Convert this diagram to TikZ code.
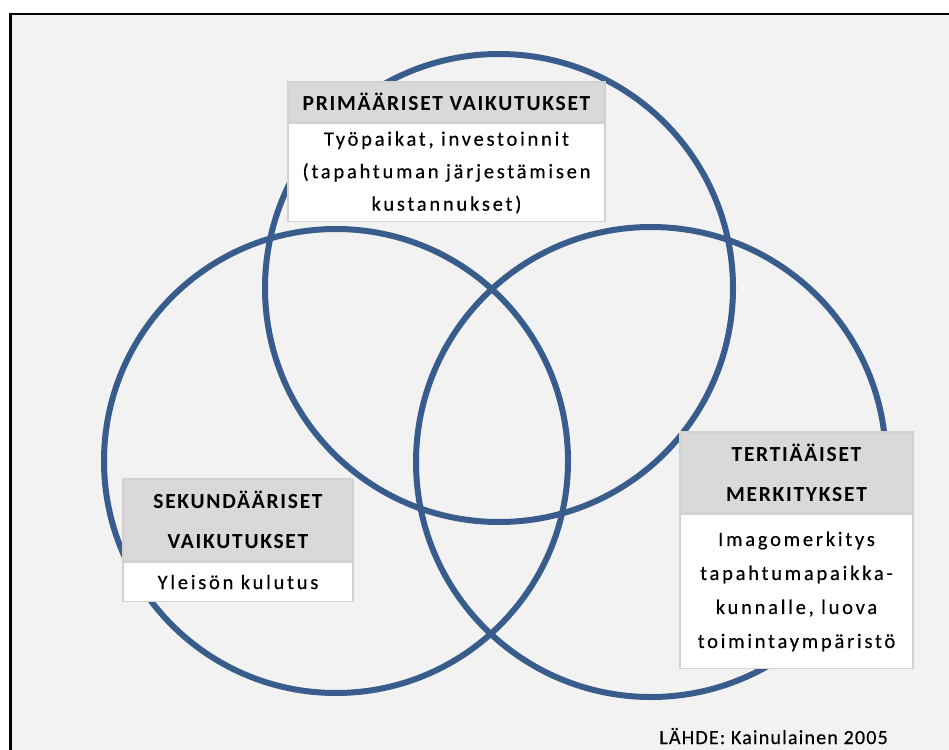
\documentclass[tikz,border=0pt]{standalone}
\usepackage{fontspec}
\setmainfont{Carlito}
\newfontfamily\plainface[FakeBold=0.4]{Carlito}
\definecolor{ringblue}{RGB}{56,93,140}
\definecolor{panel}{RGB}{242,242,242}
\definecolor{headgray}{RGB}{217,217,217}
\definecolor{edgegray}{RGB}{210,210,210}
\begin{document}
\begin{tikzpicture}[x=1pt,y=-1pt,
  ring/.style={draw=ringblue,line width=6pt},
  headbox/.style={fill=headgray,draw=edgegray,line width=1.5pt,inner sep=0pt,align=center,
    font=\bfseries\fontsize{21.5}{40}\selectfont\addfontfeature{LetterSpace=8}},
  bodybox/.style={fill=white,draw=edgegray,line width=1.5pt,inner sep=0pt,align=center,
    font=\plainface\fontsize{20.5}{32.5}\selectfont\addfontfeature{LetterSpace=13.5}},
]
% canvas, frame and panel
\useasboundingbox (0,0) rectangle (949,749);
\fill[white] (0,0) rectangle (949,749);
\fill[panel] (10,14) rectangle (952,752);
\draw[black,line width=2.8pt] (10.3,760) -- (10.3,14) -- (960,14);

% three overlapping circles
\coordinate (ctop) at (499,288);
\coordinate (cleft) at (336,461);
\coordinate (cright) at (651,462);
\draw[ring] (ctop) circle[radius=234pt];
\draw[ring] (cleft) circle[radius=232pt];
\draw[ring] (cright) circle[radius=235pt];

% primary effects
\node[headbox,minimum width=317pt,minimum height=40pt] (phead) at (446.5,102) {PRIMÄÄRISET VAIKUTUKSET};
\node[bodybox,minimum width=317pt,minimum height=98pt,anchor=north] (pbody) at (phead.south)
  {Työpaikat, investoinnit\\(tapahtuman järjestämisen\\kustannukset)};

% secondary effects
\node[headbox,minimum width=230pt,minimum height=82pt] (shead) at (238,520) {SEKUNDÄÄRISET\\VAIKUTUKSET};
\node[bodybox,minimum width=230pt,minimum height=39pt,anchor=north] (sbody) at (shead.south)
  {Yleisön kulutus};

% tertiary meanings
\node[headbox,minimum width=233pt,minimum height=81pt] (thead) at (796.5,472.5) {TERTIÄÄISET\\MERKITYKSET};
\node[bodybox,minimum width=233pt,minimum height=154pt,anchor=north,
  font=\plainface\fontsize{20.5}{34}\selectfont\addfontfeature{LetterSpace=13.5}] (tbody) at (thead.south)
  {Imagomerkitys\\tapahtumapaikka-\\kunnalle, luova\\toimintaympäristö};

% source
\node[font=\plainface\fontsize{20}{22}\selectfont\addfontfeature{LetterSpace=6},anchor=base east,inner sep=0pt] (src) at (888,744) {LÄHDE: Kainulainen 2005};
\end{tikzpicture}
\end{document}
